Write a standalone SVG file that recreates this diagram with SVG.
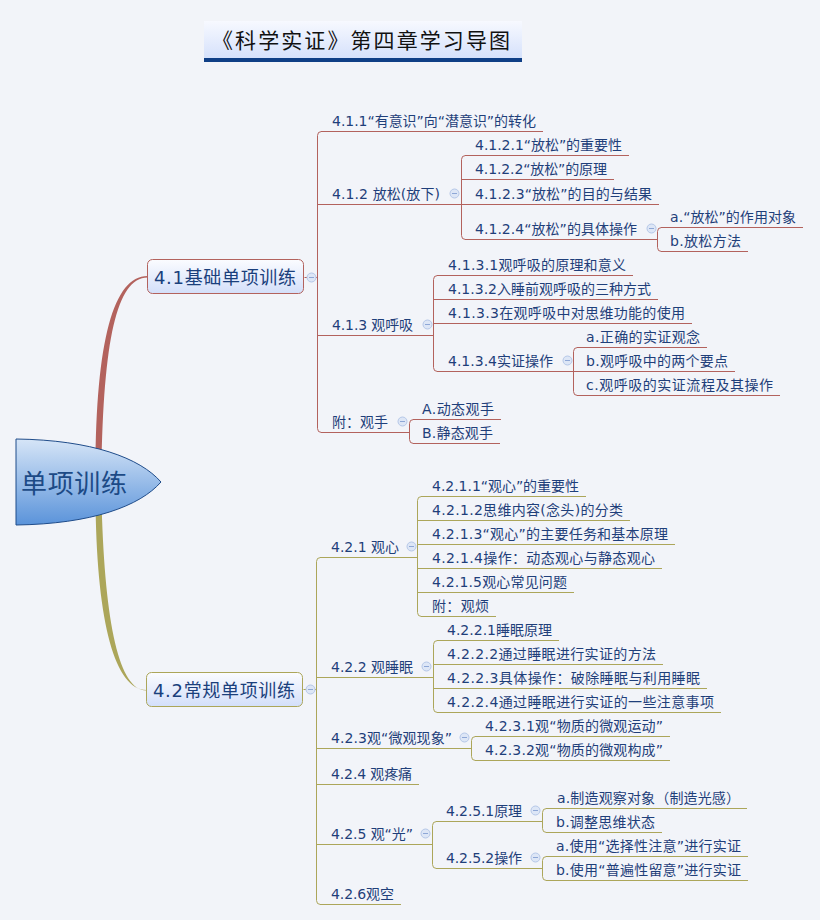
<svg xmlns="http://www.w3.org/2000/svg" width="820" height="920" viewBox="0 0 820 920">
<style>
.t{font-family:"DejaVu Sans","Noto Sans CJK SC",sans-serif;font-size:14px;fill:#1f3f7a}
.tb{font-family:"DejaVu Sans","Noto Sans CJK SC",sans-serif;font-size:18px;fill:#1a3f7c}
.ur{stroke:#b3625d;stroke-width:1;fill:none}
.uo{stroke:#aca65a;stroke-width:1;fill:none}
.cc{fill:#dde6f6;stroke:#b5c7e8;stroke-width:1}
.cm{stroke:#8ea7d6;stroke-width:1}
</style>
<defs>
<linearGradient id="gBox" x1="0" y1="0" x2="0" y2="1">
<stop offset="0" stop-color="#fbfcff"/>
<stop offset="1" stop-color="#d3dffa"/>
</linearGradient>
<linearGradient id="gTitle" x1="0" y1="0" x2="0" y2="1">
<stop offset="0" stop-color="#f7f9ff"/>
<stop offset="1" stop-color="#d4e0fb"/>
</linearGradient>
<linearGradient id="gCenter" x1="0" y1="0" x2="0" y2="1">
<stop offset="0" stop-color="#d6e5f7"/>
<stop offset="1" stop-color="#5a93da"/>
</linearGradient>
</defs>
<rect width="820" height="920" fill="#f2f4f9"/>

<g id="title">
<rect x="204" y="21" width="318" height="39" fill="url(#gTitle)"/>
<rect x="204" y="58" width="318" height="4" fill="#0f3f86"/>
<text x="212" y="48" font-family="'Noto Sans CJK SC','DejaVu Sans',sans-serif" font-size="21" fill="#111" textLength="298" lengthAdjust="spacing">《科学实证》第四章学习导图</text>
</g>

<g id="connectors" transform="translate(0.5 0.5)">
<path d="M95,470 C95.5,340 113,275.5 147,275.5 L147,277 C116,277.5 103,340 101,470 Z" fill="#b3625d"/>
<path d="M95,500 C96,620 114,689.5 146,689.5 L146,690 C118,690 104,620 101,500 Z" fill="#aca65a"/>
<g class="ur">
<path d="M304,277 H317"/>
<path d="M321,131 Q317,131 317,135 V428 Q317,432 321,432"/>
<path d="M465,155 Q461,155 461,159 V235 Q461,239 465,239"/>
<path d="M661,227 Q657,227 657,231 V247 Q657,251 661,251"/>
<path d="M437,275 Q433,275 433,279 V367 Q433,371 437,371"/>
<path d="M577,347 Q573,347 573,351 V391 Q573,395 577,395"/>
<path d="M413,419 Q409,419 409,423 V439 Q409,443 413,443"/>
</g>
<g class="uo">
<path d="M303,689 H316"/>
<path d="M320,557 Q316,557 316,561 V900 Q316,904 320,904"/>
<path d="M421,496 Q417,496 417,500 V612 Q417,616 421,616"/>
<path d="M437,640 Q433,640 433,644 V708 Q433,712 437,712"/>
<path d="M475,736 Q471,736 471,740 V756 Q471,760 475,760"/>
<path d="M436,821 Q432,821 432,825 V864 Q432,868 436,868"/>
<path d="M546,808 Q542,808 542,812 V828 Q542,832 546,832"/>
<path d="M546,856 Q542,856 542,860 V876 Q542,880 546,880"/>
</g>
</g>

<g id="center">
<path d="M16,439 C92,440 140,458 161,482 C140,506 92,524 16,525 Z" fill="url(#gCenter)" stroke="#1f4c8a" stroke-width="1"/>
<text x="21" y="493" font-family="'Noto Sans CJK SC',sans-serif" font-size="26" fill="#1c4a86" textLength="106" lengthAdjust="spacing">单项训练</text>
</g>

<g id="n41">
<rect x="147.5" y="259.5" width="156" height="34" rx="5" fill="url(#gBox)" stroke="#b3625d"/>
<text class="tb" x="154" y="284" textLength="142" lengthAdjust="spacing">4.1基础单项训练</text>
<circle class="cc" cx="311.5" cy="277.5" r="4.5"/><path class="cm" d="M309,277.5 H314"/>
</g>
<g id="n42">
<rect x="146.5" y="672.5" width="156" height="34" rx="5" fill="url(#gBox)" stroke="#aca65a"/>
<text class="tb" x="153" y="697" textLength="142" lengthAdjust="spacing">4.2常规单项训练</text>
<circle class="cc" cx="310.5" cy="689.5" r="4.5"/><path class="cm" d="M308,689.5 H313"/>
</g>

<g id="n411"><path class="ur" d="M321,131.5 H543"/><text class="t" x="332" y="126" textLength="204" lengthAdjust="spacing">4.1.1“有意识”向“潜意识”的转化</text></g>
<g id="n412"><path class="ur" d="M317,204.5 H461"/><text class="t" x="332" y="199" textLength="108" lengthAdjust="spacing">4.1.2 放松(放下)</text><circle class="cc" cx="454.5" cy="193.5" r="4.5"/><path class="cm" d="M452,193.5 H457"/></g>
<g id="n4121"><path class="ur" d="M465,155.5 H629"/><text class="t" x="475" y="150" textLength="147" lengthAdjust="spacing">4.1.2.1“放松”的重要性</text></g>
<g id="n4122"><path class="ur" d="M461,179.5 H614"/><text class="t" x="475" y="174" textLength="132" lengthAdjust="spacing">4.1.2.2“放松”的原理</text></g>
<g id="n4123"><path class="ur" d="M461,204.5 H659"/><text class="t" x="475" y="199" textLength="177" lengthAdjust="spacing">4.1.2.3“放松”的目的与结果</text></g>
<g id="n4124"><path class="ur" d="M465,239.5 H657"/><text class="t" x="475" y="234" textLength="162" lengthAdjust="spacing">4.1.2.4“放松”的具体操作</text><circle class="cc" cx="651.5" cy="228.5" r="4.5"/><path class="cm" d="M649,228.5 H654"/></g>
<g id="n4124a"><path class="ur" d="M661,227.5 H803"/><text class="t" x="670" y="222" textLength="126" lengthAdjust="spacing">a.“放松”的作用对象</text></g>
<g id="n4124b"><path class="ur" d="M661,251.5 H748"/><text class="t" x="670" y="246" textLength="71" lengthAdjust="spacing">b.放松方法</text></g>
<g id="n413"><path class="ur" d="M317,335.5 H433"/><text class="t" x="332" y="330" textLength="81" lengthAdjust="spacing">4.1.3 观呼吸</text><circle class="cc" cx="427.5" cy="324.5" r="4.5"/><path class="cm" d="M425,324.5 H430"/></g>
<g id="n4131"><path class="ur" d="M437,275.5 H633"/><text class="t" x="448" y="270" textLength="178" lengthAdjust="spacing">4.1.3.1观呼吸的原理和意义</text></g>
<g id="n4132"><path class="ur" d="M433,299.5 H658"/><text class="t" x="448" y="294" textLength="203" lengthAdjust="spacing">4.1.3.2入睡前观呼吸的三种方式</text></g>
<g id="n4133"><path class="ur" d="M433,323.5 H692"/><text class="t" x="448" y="318" textLength="237" lengthAdjust="spacing">4.1.3.3在观呼吸中对思维功能的使用</text></g>
<g id="n4134"><path class="ur" d="M437,371.5 H573"/><text class="t" x="448" y="366" textLength="105" lengthAdjust="spacing">4.1.3.4实证操作</text><circle class="cc" cx="567.5" cy="360.5" r="4.5"/><path class="cm" d="M565,360.5 H570"/></g>
<g id="n4134a"><path class="ur" d="M577,347.5 H707"/><text class="t" x="586" y="342" textLength="114" lengthAdjust="spacing">a.正确的实证观念</text></g>
<g id="n4134b"><path class="ur" d="M573,371.5 H735"/><text class="t" x="586" y="366" textLength="142" lengthAdjust="spacing">b.观呼吸中的两个要点</text></g>
<g id="n4134c"><path class="ur" d="M577,395.5 H780"/><text class="t" x="586" y="390" textLength="187" lengthAdjust="spacing">c.观呼吸的实证流程及其操作</text></g>
<g id="n41f"><path class="ur" d="M321,432.5 H409"/><text class="t" x="332" y="427" textLength="56" lengthAdjust="spacing">附：观手</text><circle class="cc" cx="402.5" cy="421.5" r="4.5"/><path class="cm" d="M400,421.5 H405"/></g>
<g id="n41fA"><path class="ur" d="M413,419.5 H501"/><text class="t" x="422" y="414" textLength="72" lengthAdjust="spacing">A.动态观手</text></g>
<g id="n41fB"><path class="ur" d="M413,443.5 H500"/><text class="t" x="422" y="438" textLength="71" lengthAdjust="spacing">B.静态观手</text></g>

<g id="n421"><path class="uo" d="M320,557.5 H417"/><text class="t" x="331" y="552" textLength="68" lengthAdjust="spacing">4.2.1 观心</text><circle class="cc" cx="411.5" cy="546.5" r="4.5"/><path class="cm" d="M409,546.5 H414"/></g>
<g id="n4211"><path class="uo" d="M421,496.5 H586"/><text class="t" x="432" y="491" textLength="147" lengthAdjust="spacing">4.2.1.1“观心”的重要性</text></g>
<g id="n4212"><path class="uo" d="M417,520.5 H630"/><text class="t" x="432" y="515" textLength="191" lengthAdjust="spacing">4.2.1.2思维内容(念头)的分类</text></g>
<g id="n4213"><path class="uo" d="M417,544.5 H675"/><text class="t" x="432" y="539" textLength="236" lengthAdjust="spacing">4.2.1.3“观心”的主要任务和基本原理</text></g>
<g id="n4214"><path class="uo" d="M417,568.5 H662"/><text class="t" x="432" y="563" textLength="223" lengthAdjust="spacing">4.2.1.4操作：动态观心与静态观心</text></g>
<g id="n4215"><path class="uo" d="M417,592.5 H574"/><text class="t" x="432" y="587" textLength="135" lengthAdjust="spacing">4.2.1.5观心常见问题</text></g>
<g id="n421f"><path class="uo" d="M421,616.5 H496"/><text class="t" x="432" y="611" textLength="57" lengthAdjust="spacing">附：观烦</text></g>
<g id="n422"><path class="uo" d="M316,677.5 H433"/><text class="t" x="331" y="672" textLength="82" lengthAdjust="spacing">4.2.2 观睡眠</text><circle class="cc" cx="426.5" cy="666.5" r="4.5"/><path class="cm" d="M424,666.5 H429"/></g>
<g id="n4221"><path class="uo" d="M437,640.5 H559"/><text class="t" x="447" y="635" textLength="105" lengthAdjust="spacing">4.2.2.1睡眠原理</text></g>
<g id="n4222"><path class="uo" d="M433,664.5 H663"/><text class="t" x="447" y="659" textLength="209" lengthAdjust="spacing">4.2.2.2通过睡眠进行实证的方法</text></g>
<g id="n4223"><path class="uo" d="M433,688.5 H707"/><text class="t" x="447" y="683" textLength="253" lengthAdjust="spacing">4.2.2.3具体操作：破除睡眠与利用睡眠</text></g>
<g id="n4224"><path class="uo" d="M437,712.5 H721"/><text class="t" x="447" y="707" textLength="267" lengthAdjust="spacing">4.2.2.4通过睡眠进行实证的一些注意事项</text></g>
<g id="n423"><path class="uo" d="M316,748.5 H471"/><text class="t" x="331" y="743" textLength="121" lengthAdjust="spacing">4.2.3观“微观现象”</text><circle class="cc" cx="464.5" cy="737.5" r="4.5"/><path class="cm" d="M462,737.5 H467"/></g>
<g id="n4231"><path class="uo" d="M475,736.5 H670"/><text class="t" x="485" y="731" textLength="178" lengthAdjust="spacing">4.2.3.1观“物质的微观运动”</text></g>
<g id="n4232"><path class="uo" d="M475,760.5 H670"/><text class="t" x="485" y="755" textLength="178" lengthAdjust="spacing">4.2.3.2观“物质的微观构成”</text></g>
<g id="n424"><path class="uo" d="M316,784.5 H419"/><text class="t" x="331" y="779" textLength="81" lengthAdjust="spacing">4.2.4 观疼痛</text></g>
<g id="n425"><path class="uo" d="M316,844.5 H432"/><text class="t" x="331" y="839" textLength="82" lengthAdjust="spacing">4.2.5 观“光”</text><circle class="cc" cx="425.5" cy="833.5" r="4.5"/><path class="cm" d="M423,833.5 H428"/></g>
<g id="n4251"><path class="uo" d="M436,821.5 H542"/><text class="t" x="446" y="816" textLength="76" lengthAdjust="spacing">4.2.5.1原理</text><circle class="cc" cx="535.5" cy="810.5" r="4.5"/><path class="cm" d="M533,810.5 H538"/></g>
<g id="n4251a"><path class="uo" d="M546,808.5 H747"/><text class="t" x="557" y="803" textLength="183" lengthAdjust="spacing">a.制造观察对象（制造光感）</text></g>
<g id="n4251b"><path class="uo" d="M546,832.5 H662"/><text class="t" x="556" y="827" textLength="99" lengthAdjust="spacing">b.调整思维状态</text></g>
<g id="n4252"><path class="uo" d="M436,868.5 H542"/><text class="t" x="446" y="863" textLength="76" lengthAdjust="spacing">4.2.5.2操作</text><circle class="cc" cx="535.5" cy="857.5" r="4.5"/><path class="cm" d="M533,857.5 H538"/></g>
<g id="n4252a"><path class="uo" d="M546,856.5 H748"/><text class="t" x="556" y="851" textLength="185" lengthAdjust="spacing">a.使用“选择性注意”进行实证</text></g>
<g id="n4252b"><path class="uo" d="M546,880.5 H748"/><text class="t" x="556" y="875" textLength="185" lengthAdjust="spacing">b.使用“普遍性留意”进行实证</text></g>
<g id="n426"><path class="uo" d="M320,904.5 H401"/><text class="t" x="331" y="899" textLength="63" lengthAdjust="spacing">4.2.6观空</text></g>
</svg>
